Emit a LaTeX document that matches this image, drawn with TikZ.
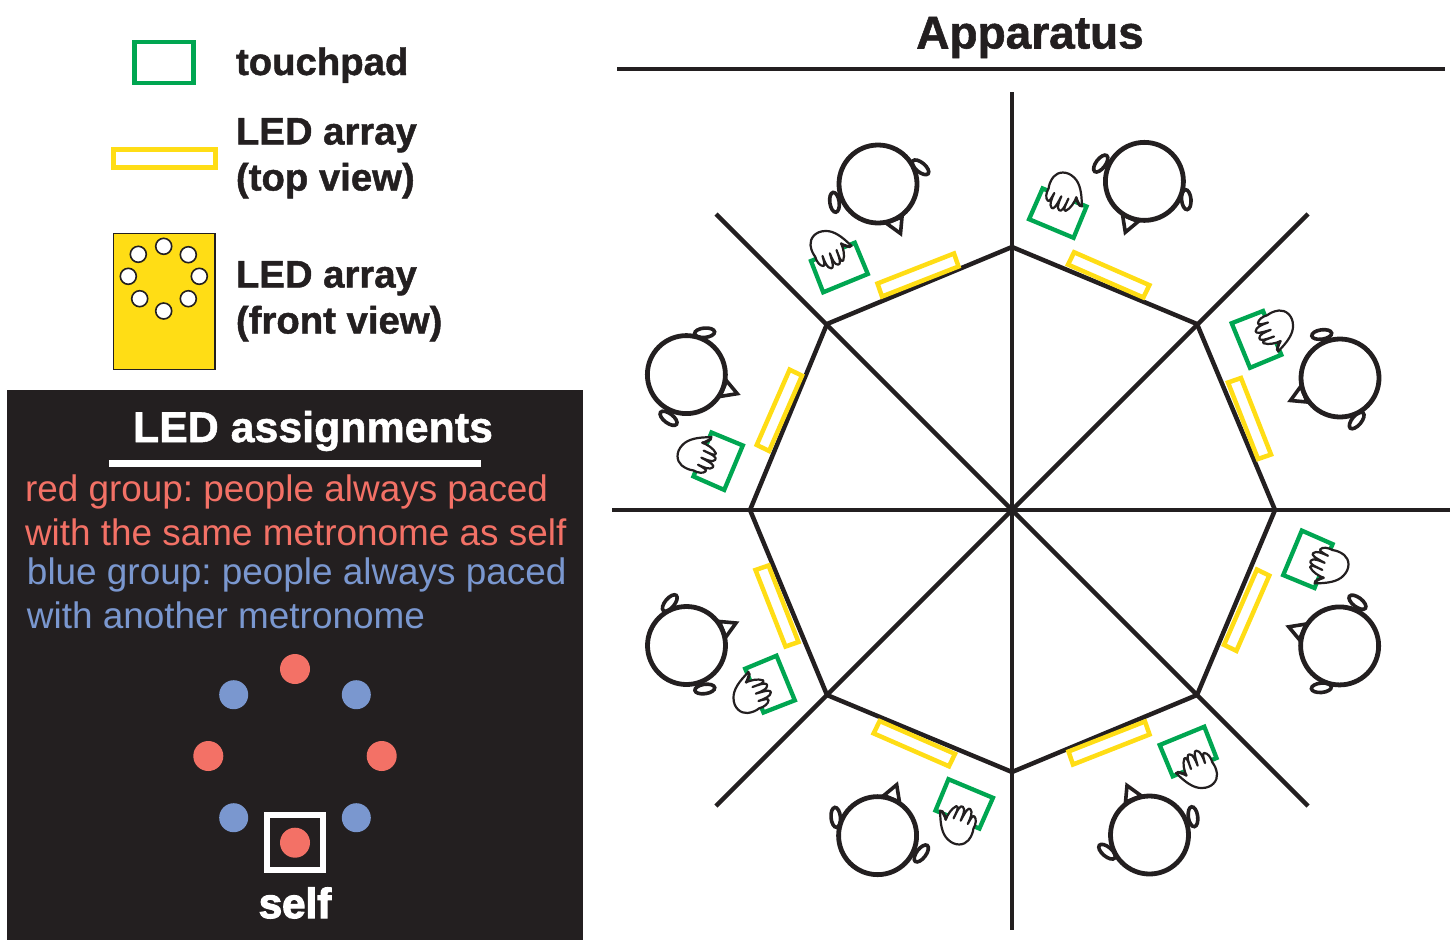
\documentclass[tikz,border=0pt]{standalone}
\usepackage{fontspec}
\setmainfont{Liberation Sans}
\newfontfamily\heavyfont[FakeBold=1.2]{Liberation Sans Bold}
\newfontfamily\selffont[FakeBold=3]{Liberation Sans Bold}
\definecolor{ink}{HTML}{231F20}
\definecolor{padgreen}{HTML}{00A651}
\definecolor{ledyellow}{HTML}{FFDD15}
\definecolor{dotred}{HTML}{F37166}
\definecolor{dotblue}{HTML}{7A97CF}
\tikzset{
  every node/.style={inner sep=0pt,outer sep=0pt,anchor=base west},
  wall/.style={draw=ink,line width=4.5pt},
  padbox/.style={draw=padgreen,line width=4.3pt,miter limit=10},
  ledbox/.style={draw=ledyellow,line width=4.5pt},
  headline/.style={draw=ink,line width=4.8pt,fill=white},
  earline/.style={draw=ink,line width=3.6pt,fill=white},
  handline/.style={draw=ink,line width=2.2pt,fill=white,line join=round},
  fingerline/.style={draw=ink,line width=2.6pt,line cap=round},
  legendtext/.style={text=ink,font=\fontsize{38.3}{38}\heavyfont},
  redtext/.style={text=dotred,font=\fontsize{36.9}{36}\selectfont},
  bluetext/.style={text=dotblue,font=\fontsize{36.9}{36}\selectfont},
  dotr/.style={circle,fill=dotred,minimum size=30pt,anchor=center},
  dotb/.style={circle,fill=dotblue,minimum size=29pt,anchor=center},
  ledlamp/.style={draw=ink,line width=1.6pt,fill=white}
}
\begin{document}
\frenchspacing
\begin{tikzpicture}[x=1pt,y=-1pt]
\useasboundingbox (0,0) rectangle (1453,940);
% legend
\draw[padbox] (134.5,42) rectangle (193.5,82.7);
\node[legendtext] (t1) at (236,75) {touchpad};
\draw[ledbox,line width=5pt] (113.5,149) rectangle (215,167);
\node[legendtext] (t2) at (236,144.5) {LED array};
\node[legendtext] (t3) at (236,190.5) {(top view)};
\draw[fill=ledyellow,draw=ink,line width=1.2pt] (113.3,233.3) rectangle (215,369.3);
\foreach \p in {(163.7,246.3),(188.3,254.7),(199.3,276.3),(188.3,298.7),(163.7,311),(139.7,298.7),(128.3,276.3),(138.3,254.3)}
  \draw[ledlamp] \p circle (8);
\node[legendtext] (t4) at (236,287.5) {LED array};
\node[legendtext] (t5) at (236,333.5) {(front view)};
% panel
\fill[ink] (7,390) rectangle (583,940);
\node[text=white,font=\fontsize{42.9}{42}\heavyfont] (t6) at (133,442) {LED assignments};
\fill[white] (109,459.5) rectangle (481,467);
\node[redtext] (r1) at (25,501) {red group: people always paced};
\node[redtext] (r2) at (25,545) {with the same metronome as self};
\node[bluetext] (b1) at (27,584) {blue group: people always paced};
\node[bluetext] (b2) at (27,628) {with another metronome};
\node[dotr] (d1) at (295,669) {};
\node[dotb] (d2) at (356.3,694.7) {};
\node[dotr] (d3) at (381.7,756) {};
\node[dotb] (d4) at (356.3,817.7) {};
\node[dotr] (d5) at (295,842.7) {};
\node[dotb] (d6) at (233.7,817.7) {};
\node[dotr] (d7) at (208.3,756) {};
\node[dotb] (d8) at (233.7,694.7) {};
\draw[white,line width=6pt] (267.3,815) rectangle (323,870.3);
\node[text=white,font=\fontsize{42}{42}\selffont,anchor=base] (s) at (295,918) {self};
% apparatus
\node[text=ink,font=\fontsize{46}{46}\heavyfont,anchor=base] (t7) at (1030,48.5) {Apparatus};
\draw[wall] (617,69) -- (1445,69);
\draw[wall] (1012,92) -- (1012,930);
\draw[wall] (612,510) -- (1450,510);
\draw[wall] (716,214) -- (1308,806);
\draw[wall] (1308,214) -- (716,806);
\draw[wall,line join=miter] (1012,247) -- (1197,324) -- (1275,510) -- (1197,695) -- (1012,772) -- (827,695) -- (750,510) -- (827,324) -- cycle;
\foreach \a/\px/\py/\lx/\ly in {0/0.5/0/0/0,45/-3/-3/-3/-2.5,90/2/2.5/2.5/2.5,135/2/0.5/2/0.5,180/3/-1/3/-2,225/1/0/2/1,270/0.5/1/0/2,315/0/0/0/0}{
\begin{scope}[shift={(\lx,\ly)}]
\begin{scope}[rotate around={-\a:(1012,510)}]
  % LED array
  \draw[ledbox] (877.5,283.5) -- (954,253.5) -- (958.5,266.5) -- (882,296.5) -- cycle;
\end{scope}
\end{scope}
\begin{scope}[shift={(\px,\py)}]
\begin{scope}[rotate around={-\a:(1012,510)}]
  % touchpad
  \draw[padbox] (810.5,261) -- (854.3,242.7) -- (867.3,274) -- (822.7,292.3) -- cycle;
  % hand
  \begin{scope}[shift={(800,130)},scale=1/3]
    \draw[handline] (153,348) .. controls (125,320) and (100,302) .. (75,303)
      .. controls (45,303) and (28,325) .. (30,345)
      .. controls (32,362) and (38,372) .. (44,380)
      .. controls (48,395) and (58,408) .. (68,408)
      .. controls (74,408) and (72,398) .. (66,378)
      .. controls (72,395) and (80,415) .. (92,415)
      .. controls (100,415) and (98,402) .. (88,370)
      .. controls (95,388) and (102,405) .. (113,404)
      .. controls (121,403) and (120,392) .. (108,360)
      .. controls (115,378) and (120,398) .. (128,392)
      .. controls (134,375) and (128,355) .. (122,340)
      .. controls (135,352) and (145,352) .. (153,348) -- cycle;
    \draw[fingerline] (122,342) -- (148,351);
  \end{scope}
  % head
  \draw[earline] (834,202.3) ellipse [x radius=4.7,y radius=10,rotate=8];
  \draw[earline] (920,167.3) ellipse [x radius=10,y radius=4.7,rotate=-40];
  \draw[earline,line join=miter] (885.5,223) -- (900,233.5) -- (901.5,217) -- cycle;
  \draw[headline] (877.5,184) circle (39);
\end{scope}
\end{scope}}
\end{tikzpicture}
\end{document}
